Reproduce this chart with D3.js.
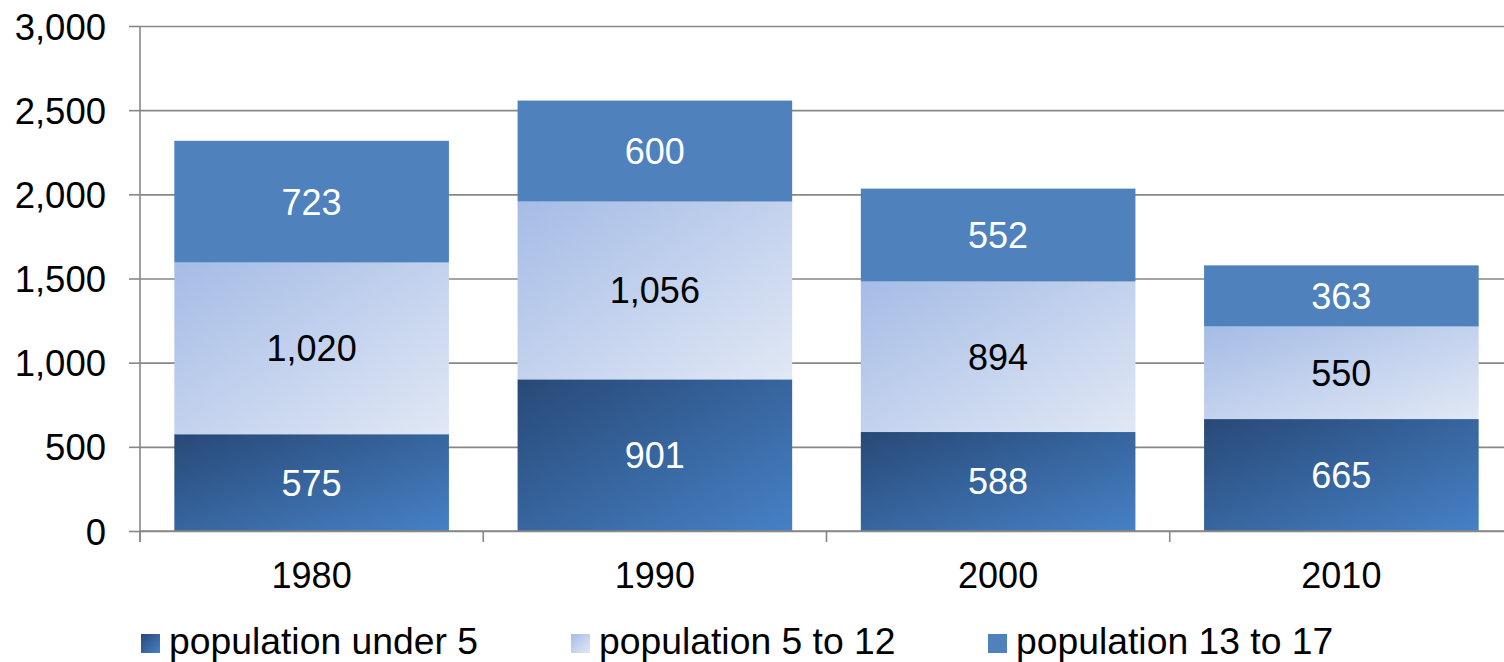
<!DOCTYPE html>
<html>
<head>
<meta charset="utf-8">
<script src="https://cdn.jsdelivr.net/npm/d3@7"></script>
<style>
  body { margin: 0; background: #fff; }
  text { font-family: "Liberation Sans", Arial, sans-serif; }
</style>
</head>
<body>
<svg id="chart" width="1504" height="662"></svg>
<script>
"use strict";

// chart data
const years = ["1980", "1990", "2000", "2010"];
const seriesNames = ["population under 5", "population 5 to 12", "population 13 to 17"];
const under5 = [575, 901, 588, 665];
const age5to12 = [1020, 1056, 894, 550];
const age13to17 = [723, 600, 552, 363];
const yTicks = [0, 500, 1000, 1500, 2000, 2500, 3000];

const rows = years.map((yr, i) => ({
  year: yr,
  s0: under5[i],
  s1: age5to12[i],
  s2: age13to17[i]
}));

const svg = d3.select("#chart");
const plotLeft = 140, plotRight = 1513, plotTop = 26, plotBottom = 531;
const gridColor = "#878787";
const fmt = d3.format(",");

let x = d3.scaleBand()
          .domain(years)
          .range([plotLeft, plotRight])
          .paddingInner(0.2)
          .paddingOuter(0.1);

let y = d3.scaleLinear()
          .domain([0, 3000])
          .range([plotBottom, plotTop]);

// gradients
let defs = svg.append("defs");
function grad(id, c1, c2)
{
  let g = defs.append("linearGradient")
              .attr("id", id)
              .attr("x1", 0).attr("y1", 0)
              .attr("x2", 1).attr("y2", 1);
  g.append("stop").attr("offset", "0%").attr("stop-color", c1);
  g.append("stop").attr("offset", "100%").attr("stop-color", c2);
}
grad("g0", "#284977", "#4681c6");
grad("g1", "#a5bce6", "#e1e8f5");
grad("g2", "#4f81bd", "#4f81bd");
const fills = ["url(#g0)", "url(#g1)", "url(#g2)"];
const labelColors = ["#fff", "#000", "#fff"];

// gridlines
svg.append("g")
   .attr("transform", "translate(" + plotLeft + ",0)")
   .call(d3.axisRight(y).tickValues(yTicks).tickSize(plotRight - plotLeft).tickFormat(""))
   .call(g => g.select(".domain").remove())
   .call(g => g.selectAll("line").attr("stroke", gridColor).attr("stroke-width", 1.6));

// y axis
svg.append("g")
   .attr("transform", "translate(" + plotLeft + ",0)")
   .call(d3.axisLeft(y).tickValues(yTicks).tickSize(11).tickPadding(23).tickFormat(fmt))
   .call(g => g.select(".domain").remove())
   .call(g => g.selectAll("line").attr("stroke", gridColor).attr("stroke-width", 1.6))
   .call(g => g.selectAll("text")
               .attr("font-family", "Liberation Sans, Arial, sans-serif")
               .attr("font-size", 36.5)
               .attr("fill", "#000")
               .attr("dy", "0.36em"));

svg.append("line")
   .attr("x1", plotLeft).attr("x2", plotLeft)
   .attr("y1", y(3000)).attr("y2", plotBottom + 11)
   .attr("stroke", gridColor).attr("stroke-width", 1.6);

// stacked bars
let stack = d3.stack().keys(["s0", "s1", "s2"]);
let layers = stack(rows);

let lg = svg.selectAll("g.layer")
            .data(layers)
            .enter()
            .append("g")
            .attr("class", "layer");

lg.selectAll("rect")
  .data(d => d)
  .enter()
  .append("rect")
  .attr("x", d => x(d.data.year))
  .attr("width", x.bandwidth())
  .attr("y", d => y(d[1]))
  .attr("height", d => y(d[0]) - y(d[1]))
  .attr("fill", (d, i, n) => fills[d3.select(n[i].parentNode).datum().index]);

lg.selectAll("text")
  .data(d => d)
  .enter()
  .append("text")
  .attr("x", d => x(d.data.year) + x.bandwidth() / 2)
  .attr("y", d => (y(d[0]) + y(d[1])) / 2)
  .attr("dy", "0.36em")
  .attr("text-anchor", "middle")
  .attr("font-size", 36)
  .attr("fill", (d, i, n) => labelColors[d3.select(n[i].parentNode).datum().index])
  .text(d => fmt(d[1] - d[0]));

// x axis
svg.append("line")
   .attr("x1", plotLeft).attr("x2", plotRight)
   .attr("y1", plotBottom).attr("y2", plotBottom)
   .attr("stroke", gridColor).attr("stroke-width", 1.6);

let gap = (x.step() - x.bandwidth()) / 2;
let bounds = years.map(d => x(d) - gap).concat([plotRight]);
svg.selectAll("line.xtick")
   .data(bounds)
   .enter()
   .append("line")
   .attr("class", "xtick")
   .attr("x1", d => d).attr("x2", d => d)
   .attr("y1", plotBottom).attr("y2", plotBottom + 11)
   .attr("stroke", gridColor).attr("stroke-width", 1.6);

svg.selectAll("text.xlab")
   .data(years)
   .enter()
   .append("text")
   .attr("class", "xlab")
   .attr("x", d => x(d) + x.bandwidth() / 2)
   .attr("y", 588)
   .attr("text-anchor", "middle")
   .attr("font-size", 36)
   .text(d => d);

// legend
const legendX = [141, 571, 988];
let leg = svg.selectAll("g.leg")
             .data(seriesNames)
             .enter()
             .append("g")
             .attr("class", "leg")
             .attr("transform", (d, i) => "translate(" + legendX[i] + ",0)");

leg.append("rect")
   .attr("x", 0).attr("y", 634)
   .attr("width", 19).attr("height", 19)
   .attr("fill", (d, i) => fills[i]);

leg.append("text")
   .attr("x", 28)
   .attr("y", 654)
   .attr("font-size", 37.3)
   .text(d => d);
</script>
</body>
</html>
